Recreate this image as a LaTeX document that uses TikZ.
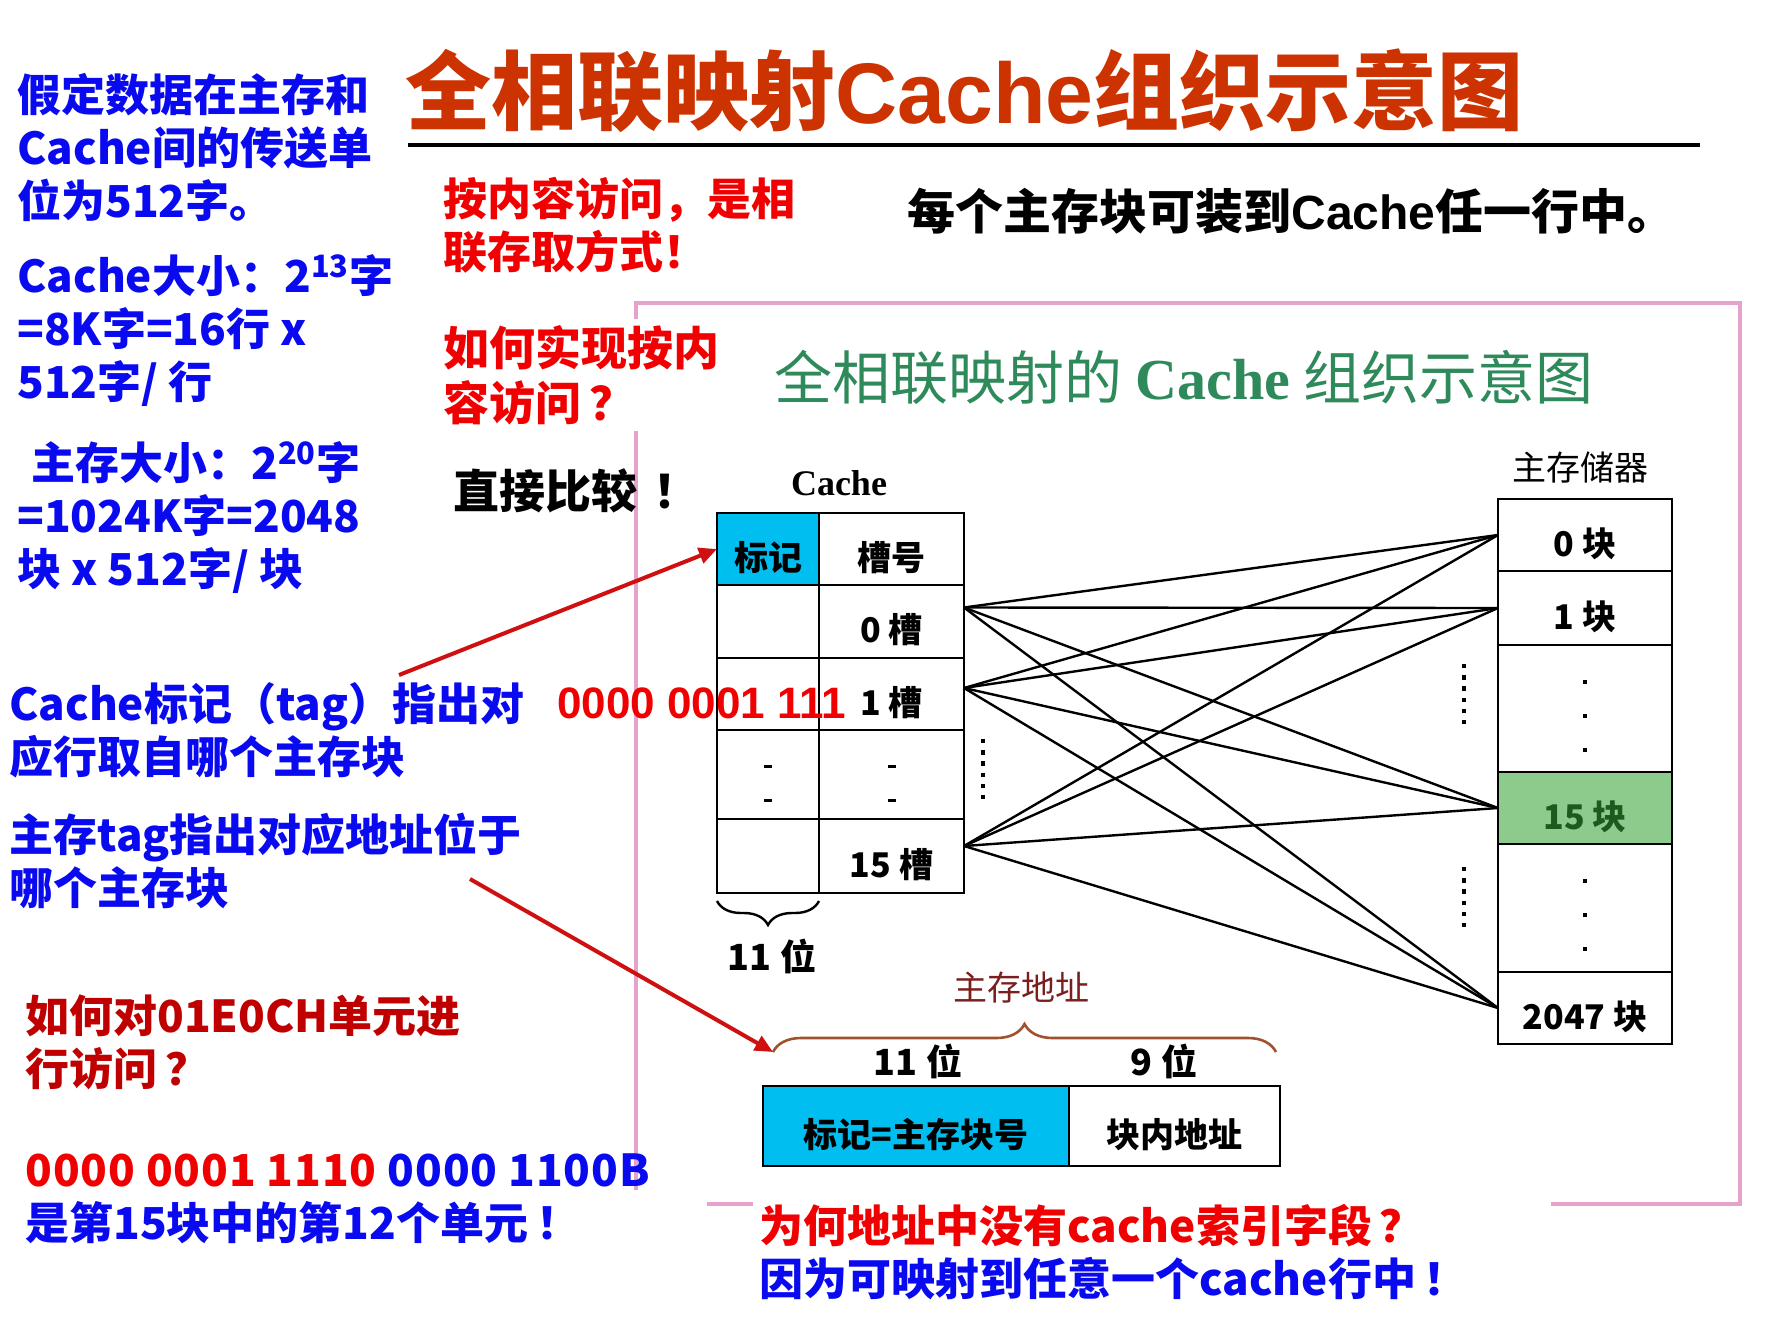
\documentclass[tikz,border=0pt]{standalone}
\usepackage{fontspec}
\setmainfont{Noto Sans CJK SC}
\newfontfamily\romfont{Liberation Serif}
\newfontfamily\arialfont{Liberation Sans}
\usetikzlibrary{arrows.meta,positioning,calc,decorations.pathreplacing}
\definecolor{ttlred}{HTML}{CC3300}
\definecolor{nblue}{HTML}{0A0AF0}
\definecolor{nred}{HTML}{F00000}
\definecolor{dred}{HTML}{C00000}
\definecolor{framepink}{HTML}{E4A2CC}
\definecolor{tagcyan}{HTML}{00BFF0}
\definecolor{blkgreen}{HTML}{8DCB8D}
\definecolor{blkgreentxt}{HTML}{1E5A1E}
\definecolor{figgreen}{HTML}{2E8A5A}
\definecolor{bracebrown}{HTML}{A0522D}
\definecolor{addrlbl}{HTML}{7A1E1E}
\definecolor{arrred}{HTML}{D01010}
\newcommand{\notefont}{\bfseries\fontsize{22}{26.5}\selectfont}
\newcommand{\cellfont}{\bfseries\fontsize{17}{19}\selectfont}
\newcommand{\rd}[1]{{\color{nred}#1}}
\newcommand{\bl}[1]{{\color{nblue}#1}}
\newcommand{\cachesans}{{\arialfont\bfseries Cache}}
\tikzset{
  note/.style={anchor=west, inner sep=0pt, align=left, font=\notefont},
  cell/.style={draw, line width=1.4pt, inner sep=0pt, outer sep=0pt, font=\cellfont,
               text height=21pt, text depth=0pt},
  tagcol/.style={cell, minimum width=51pt},
  slotcol/.style={cell, minimum width=72.5pt},
  memcol/.style={cell, minimum width=87pt},
  lbl/.style={inner sep=0pt, font=\fontsize{17}{20}\selectfont},
  link/.style={line width=1.2pt},
  dotline/.style={line width=2.2pt, dash pattern=on 2.2pt off 3.4pt},
  redarr/.style={-{Triangle[length=9pt,width=8pt]}, line width=2pt, color=arrred}}

\begin{document}
\begin{tikzpicture}[x=0.5pt, y=-0.5pt]
  \fill[white] (0,0) rectangle (1789,1344);
  \useasboundingbox (0,0) rectangle (1789,1344);

  % title
  \node[anchor=west, inner sep=0pt, text=ttlred, font=\bfseries\fontsize{43}{48}\selectfont] (ttl) at (405,91) {全相联映射\cachesans 组织示意图};
  \draw[line width=2pt] (408,145) -- (1700,145);

  % frame of the figure
  \draw[framepink, line width=1.6pt] (636,1190) -- (636,303) -- (1740,303) -- (1740,1204) -- (707,1204);

  % notes, left
  \node[note, text=nblue] (n1) at (17,147) {假定数据在主存和\\Cache间的传送单\\位为512字。};
  \node[note, text=nblue] (n2) at (17,331) {Cache大小：2\textsuperscript{13}字\\=8K字=16行 x\\512字/ 行};
  \node[note, text=nblue] (n3) at (17,518) {\hspace{7pt}主存大小：2\textsuperscript{20}字\\=1024K字=2048\\块 x 512字/ 块};
  \node[note, text=nred] (q1) at (443,225) {按内容访问，是相\\联存取方式！};
  \node[note, text=nred, fill=white, inner sep=3pt, font=\bfseries\fontsize{23}{27.5}\selectfont] (q2) at (437,375) {如何实现按内\\容访问\hspace{4pt}？};
  \node[note, font=\bfseries\fontsize{23}{27}\selectfont] (cmp) at (453,491) {直接比较\hspace{8pt}！};
  \node[note, font=\bfseries\fontsize{24}{28}\selectfont] (every) at (907,211) {每个主存块可装到\cachesans 任一行中。};
  \node[note, text=nblue] (tagnote) at (9,730) {Cache标记（tag）指出对\\应行取自哪个主存块};
  \node[note, text=nblue] (memnote) at (9,861) {主存tag指出对应地址位于\\哪个主存块};
  \node[note, text=dred] (howq) at (25,1042) {如何对01E0CH单元进\\行访问\hspace{4pt}？};
  \node[note] (bin) at (25,1199) {{\addfontfeature{LetterSpace=2}\rd{0000 0001 1110} \bl{0000 1100B}}\\\bl{是第15块中的第12个单元\hspace{4pt}！}};
  \node[note, fill=white, text width=393pt, inner xsep=3pt, inner ysep=4pt] (why) at (753,1252)
    {\rd{为何地址中没有cache索引字段\hspace{4pt}？}\\\bl{因为可映射到任意一个cache行中\hspace{4pt}！}};

  % figure
  \node[anchor=west, inner sep=0pt, text=figgreen, font=\fontsize{29}{32}\selectfont] (figttl) at (774,377)
    {全相联映射的 {\romfont\bfseries Cache} 组织示意图};
  \node[lbl, font=\romfont\bfseries\fontsize{18}{20}\selectfont] (cachelbl) at (839,483) {Cache};
  \node[lbl] (memlbl) at (1580,468) {主存储器};

  % cache
  \node[tagcol, fill=tagcyan, minimum height=36pt] (taghd) at (768,549) {标记};
  \node[slotcol, minimum height=36pt, right=0pt of taghd] (slothd) {槽号};
  \node[tagcol, minimum height=36.5pt, below=0pt of taghd] (tag0) {};
  \node[slotcol, minimum height=36.5pt, below=0pt of slothd] (slot0) {0 槽};
  \node[tagcol, minimum height=36pt, below=0pt of tag0] (tag1) {};
  \node[slotcol, minimum height=36pt, below=0pt of slot0] (slot1) {1 槽};
  \node[tagcol, minimum height=44.5pt, below=0pt of tag1] (tagd) {};
  \node[slotcol, minimum height=44.5pt, below=0pt of slot1] (slotd) {};
  \node[tagcol, minimum height=37pt, below=0pt of tagd] (tag15) {};
  \node[slotcol, minimum height=37pt, below=0pt of slotd] (slot15) {15 槽};
  \foreach \c in {tagd,slotd}
    \foreach \k in {-1,1}
      \draw[line width=1.5pt] ($(\c.center)+(-4,\k*17+9)$) -- ++(8,0);
  \draw[decorate, decoration={brace, mirror, amplitude=12pt}, line width=1.2pt]
    ([yshift=-4pt]tag15.south west) -- ([yshift=-4pt]tag15.south east);
  \node[lbl, font=\bfseries\fontsize{18}{20}\selectfont] (tagw) at (772,956) {11 位};

  % main memory
  \node[memcol, minimum height=36pt] (m0) at (1585,535) {0 块};
  \node[memcol, minimum height=37pt, below=0pt of m0] (m1) {1 块};
  \node[memcol, minimum height=63.5pt, below=0pt of m1] (md1) {};
  \node[memcol, fill=blkgreen, text=blkgreentxt, minimum height=36pt, below=0pt of md1] (m15) {15 块};
  \node[memcol, minimum height=64pt, below=0pt of m15] (md2) {};
  \node[memcol, minimum height=36pt, below=0pt of md2] (m2047) {2047 块};
  \foreach \d in {md1,md2}
    \foreach \k in {-1,0,1}
      \fill ($(\d.center)+(-2,\k*34+5)$) rectangle ++(4,4);

  % every slot to every block
  \foreach \s/\dy in {slot0/7,slot1/3,slot15/5}
    \foreach \m in {m0,m1,m15,m2047}
      \draw[link] ([yshift=\dy pt]\s.east) -- (\m.west);
  \draw[dotline] (983,739) -- (983,806);
  \draw[dotline] (1464,664) -- (1464,731);
  \draw[dotline] (1464,867) -- (1464,934);

  % main memory address
  \node[cell, fill=tagcyan, minimum width=153pt, minimum height=40pt] (addrtag) at (916,1126) {标记=主存块号};
  \node[cell, minimum width=105.5pt, minimum height=40pt, right=0pt of addrtag] (addroff) {块内地址};
  \node[lbl, font=\bfseries\fontsize{18}{20}\selectfont] (tagbitsw) at (918,1061) {11 位};
  \node[lbl, font=\bfseries\fontsize{18}{20}\selectfont] (offbitsw) at (1164,1061) {9 位};
  \coordinate (bl) at (773,1052);
  \coordinate (br) at (1276,1052);
  \draw[decorate, decoration={brace, amplitude=14pt}, bracebrown, line width=1.3pt] (bl) -- (br);
  \node[lbl, text=addrlbl] (addrlbl) at (1021,988) {主存地址};

  % red text on the cache, and the arrows
  \node[anchor=west, inner sep=0pt, text=nred, font=\arialfont\bfseries\fontsize{22}{26}\selectfont] (tagbits) at (557,703) {0000 0001 111};
  \coordinate (a1) at (399,675);
  \coordinate (a2) at (470,879);
  \draw[redarr] (a1) -- (taghd.west);
  \draw[redarr] (a2) -- (bl);
\end{tikzpicture}
\end{document}
